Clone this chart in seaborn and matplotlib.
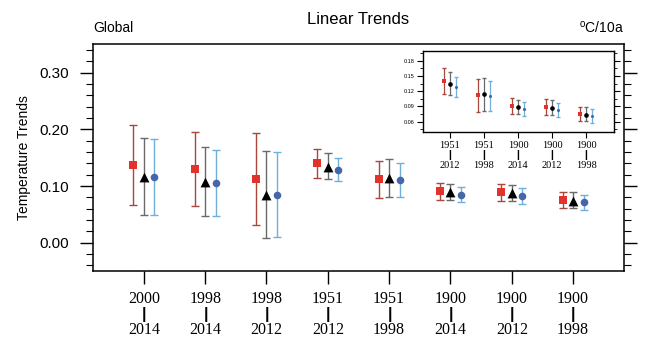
import numpy as np
import pandas as pd
import seaborn as sns
import matplotlib
matplotlib.use("Agg")
import matplotlib.pyplot as plt
from matplotlib.ticker import MultipleLocator, FixedLocator

# ---------------- data ----------------
period_start = ["2000", "1998", "1998", "1951", "1951", "1900", "1900", "1900"]
period_end = ["2014", "2014", "2012", "2012", "1998", "2014", "2012", "1998"]

red_val = [0.137, 0.130, 0.112, 0.140, 0.112, 0.091, 0.089, 0.075]
red_lo = [0.066, 0.064, 0.031, 0.115, 0.079, 0.075, 0.074, 0.061]
red_hi = [0.208, 0.196, 0.193, 0.165, 0.145, 0.106, 0.104, 0.089]

black_val = [0.116, 0.107, 0.084, 0.134, 0.114, 0.089, 0.087, 0.074]
black_lo = [0.049, 0.047, 0.008, 0.113, 0.081, 0.075, 0.074, 0.061]
black_hi = [0.185, 0.169, 0.162, 0.158, 0.147, 0.103, 0.102, 0.089]

blue_val = [0.116, 0.106, 0.085, 0.129, 0.111, 0.085, 0.083, 0.071]
blue_lo = [0.049, 0.048, 0.011, 0.109, 0.081, 0.071, 0.069, 0.057]
blue_hi = [0.183, 0.164, 0.160, 0.149, 0.141, 0.099, 0.097, 0.085]

inset_first = 3  # inset shows periods from this index on

y_ticks = [0.00, 0.10, 0.20, 0.30]
inset_y_ticks = [0.06, 0.09, 0.12, 0.15, 0.18]

# ---------------- style ----------------
sns.set_style("ticks")
plt.rcParams['font.family'] = ['Liberation Sans', 'DejaVu Sans']
plt.rcParams['mathtext.fontset'] = 'custom'
plt.rcParams['mathtext.rm'] = 'Liberation Sans'
plt.rcParams['mathtext.bf'] = 'Liberation Sans:bold'
for k in ['axes.edgecolor', 'xtick.color', 'ytick.color', 'text.color',
          'axes.labelcolor']:
    plt.rcParams[k] = 'black'

series = [
    dict(name="A", val=red_val, lo=red_lo, hi=red_hi, off=-0.17, marker="s",
         mcol="#e3322b", ecol="#a8473b", s=32, s_in=12, m_in="s"),
    dict(name="B", val=black_val, lo=black_lo, hi=black_hi, off=0.0, marker="^",
         mcol="#000000", ecol="#6a6a6a", s=50, s_in=11, m_in="o"),
    dict(name="C", val=blue_val, lo=blue_lo, hi=blue_hi, off=0.17, marker="o",
         mcol="#4467a9", ecol="#6eb0d9", s=30, s_in=5, m_in="o"),
]

sep = r"$\mathbf{|}$"
labels = [f"{a}\n{sep}\n{b}" for a, b in zip(period_start, period_end)]

fig = plt.figure(figsize=(6.5, 3.44), dpi=100)
fig.patch.set_facecolor("white")

ax = fig.add_axes([0.143, 0.212, 0.817, 0.659])
axi = fig.add_axes([0.650, 0.617, 0.294, 0.2355])


def draw(a, idx, small):
    for sr in series:
        x = np.array(idx, dtype=float) + 1 - idx[0] + sr["off"]
        v = np.array(sr["val"])[idx]
        lo = np.array(sr["lo"])[idx]
        hi = np.array(sr["hi"])[idx]
        a.errorbar(x, v, yerr=[v - lo, hi - v], fmt="none", ecolor=sr["ecol"],
                   elinewidth=1.0 if not small else 0.9,
                   capsize=2.8 if not small else 1.7, capthick=1.0, zorder=2)
        df = pd.DataFrame({"x": x, "y": v})
        sns.scatterplot(data=df, x="x", y="y", ax=a,
                        marker=sr["m_in"] if small else sr["marker"],
                        s=sr["s_in"] if small else sr["s"],
                        color=sr["mcol"], edgecolor=sr["mcol"], linewidth=0,
                        zorder=3, legend=False)


# main axes
draw(ax, list(range(len(labels))), False)
ax.set_xlim(0.17, 8.83)
ax.set_ylim(-0.05, 0.35)
ax.set_xticks(np.arange(1, len(labels) + 1))
ax.set_xticklabels(labels, fontfamily="Liberation Serif", fontsize=11.5,
                   linespacing=0.85)
ax.yaxis.set_major_locator(FixedLocator(y_ticks))
ax.yaxis.set_minor_locator(MultipleLocator(0.02))
ax.set_yticklabels([f"{t:.2f}" for t in y_ticks], fontsize=11)
ax.set_xlabel("")
ax.set_ylabel("Temperature Trends", fontsize=10, labelpad=6)
for sp in ax.spines.values():
    sp.set_visible(True)
    sp.set_linewidth(1.1)
ax.tick_params(axis="y", which="major", direction="out", length=9.5, width=1.0,
               right=True, labelright=False, pad=8)
ax.tick_params(axis="y", which="minor", direction="out", length=4.7, width=0.8,
               right=True)
ax.tick_params(axis="x", which="major", direction="out", length=9.5, width=1.0,
               pad=5)
ax.set_title("Linear Trends", fontsize=12, pad=15)
ax.text(0.0, 1.04, "Global", transform=ax.transAxes, fontsize=10,
        ha="left", va="bottom")
ax.text(1.0, 1.04, r"$^\mathrm{o}$C/10a", transform=ax.transAxes, fontsize=10,
        ha="right", va="bottom")

# inset
idx_in = list(range(inset_first, len(labels)))
draw(axi, idx_in, True)
axi.set_facecolor("white")
axi.set_xlim(0.2, 5.8)
axi.set_ylim(0.04, 0.20)
axi.set_xticks(np.arange(1, len(idx_in) + 1))
axi.set_xticklabels([labels[i] for i in idx_in], fontfamily="Liberation Serif",
                    fontsize=7.5, linespacing=0.8)
axi.yaxis.set_major_locator(FixedLocator(inset_y_ticks))
axi.yaxis.set_minor_locator(MultipleLocator(0.015))
axi.set_yticklabels([f"{t:.2f}" for t in inset_y_ticks], fontsize=4)
axi.set_xlabel("")
axi.set_ylabel("")
for sp in axi.spines.values():
    sp.set_visible(True)
    sp.set_linewidth(1.0)
axi.tick_params(axis="y", which="major", direction="out", length=4, width=0.8,
                right=True, labelright=False, pad=1.5)
axi.tick_params(axis="y", which="minor", direction="out", length=2, width=0.6,
                right=True)
axi.tick_params(axis="x", which="major", direction="out", length=4, width=0.8,
                pad=3)

fig.savefig("out.png", dpi=100, facecolor="white")
